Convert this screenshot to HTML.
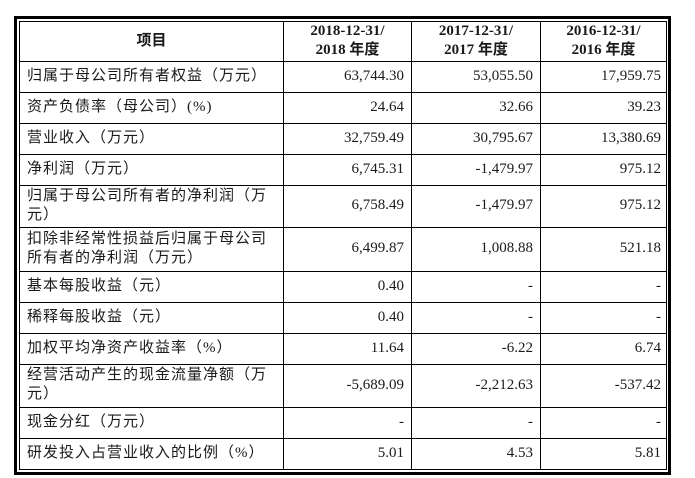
<!DOCTYPE html>
<html><head><meta charset="utf-8"><style>
body{margin:0;width:695px;height:478px;background:#fff;position:relative;overflow:hidden;font-family:"Liberation Serif","Noto Sans CJK SC",serif;color:#1a1a1a}
.h{position:absolute;background:#000}
.t{position:absolute;font-size:15px;line-height:19px;white-space:nowrap}
.l{left:27px;font-family:"Liberation Serif","Noto Sans CJK SC",sans-serif;letter-spacing:1px}
.n{text-align:right}
.hd{font-weight:bold;text-align:center;font-size:15px;line-height:19px}
</style></head><body>
<div class="h" style="left:14px;top:16px;width:657px;height:3px"></div>
<div class="h" style="left:14px;top:472px;width:657px;height:3px"></div>
<div class="h" style="left:14px;top:16px;width:3px;height:459px"></div>
<div class="h" style="left:668px;top:16px;width:3px;height:459px"></div>
<div class="h" style="left:19px;top:21px;width:648px;height:1px"></div>
<div class="h" style="left:19px;top:469px;width:648px;height:1px"></div>
<div class="h" style="left:19px;top:21px;width:1px;height:449px"></div>
<div class="h" style="left:666px;top:21px;width:1px;height:449px"></div>
<div class="h" style="left:283px;top:21px;width:1px;height:449px"></div>
<div class="h" style="left:411px;top:21px;width:1px;height:449px"></div>
<div class="h" style="left:540px;top:21px;width:1px;height:449px"></div>
<div class="h" style="left:19px;top:61px;width:648px;height:1px"></div>
<div class="h" style="left:19px;top:92px;width:648px;height:1px"></div>
<div class="h" style="left:19px;top:123px;width:648px;height:1px"></div>
<div class="h" style="left:19px;top:154px;width:648px;height:1px"></div>
<div class="h" style="left:19px;top:185px;width:648px;height:1px"></div>
<div class="h" style="left:19px;top:227px;width:648px;height:1px"></div>
<div class="h" style="left:19px;top:271px;width:648px;height:1px"></div>
<div class="h" style="left:19px;top:302px;width:648px;height:1px"></div>
<div class="h" style="left:19px;top:333px;width:648px;height:1px"></div>
<div class="h" style="left:19px;top:364px;width:648px;height:1px"></div>
<div class="h" style="left:19px;top:407px;width:648px;height:1px"></div>
<div class="h" style="left:19px;top:438px;width:648px;height:1px"></div>

<div class="t hd" style="left:20px;width:263px;top:32px">项目</div>
<div class="t hd" style="left:284px;width:127px;top:22px">2018-12-31/<br>2018 年度</div>
<div class="t hd" style="left:412px;width:128px;top:22px">2017-12-31/<br>2017 年度</div>
<div class="t hd" style="left:541px;width:125px;top:22px">2016-12-31/<br>2016 年度</div>

<div class="t l" style="top:67px">归属于母公司所有者权益（万元）</div>
<div class="t l" style="top:98px">资产负债率（母公司）(%)</div>
<div class="t l" style="top:129px">营业收入（万元）</div>
<div class="t l" style="top:160px">净利润（万元）</div>
<div class="t l" style="top:187px">归属于母公司所有者的净利润（万<br>元）</div>
<div class="t l" style="top:230px">扣除非经常性损益后归属于母公司<br>所有者的净利润（万元）</div>
<div class="t l" style="top:277px">基本每股收益（元）</div>
<div class="t l" style="top:308px">稀释每股收益（元）</div>
<div class="t l" style="top:339px">加权平均净资产收益率（%）</div>
<div class="t l" style="top:366px">经营活动产生的现金流量净额（万<br>元）</div>
<div class="t l" style="top:413px">现金分红（万元）</div>
<div class="t l" style="top:444px">研发投入占营业收入的比例（%）</div>

<div class="t n" style="right:291px;top:67px">63,744.30</div>
<div class="t n" style="right:162px;top:67px">53,055.50</div>
<div class="t n" style="right:34px;top:67px">17,959.75</div>
<div class="t n" style="right:291px;top:98px">24.64</div>
<div class="t n" style="right:162px;top:98px">32.66</div>
<div class="t n" style="right:34px;top:98px">39.23</div>
<div class="t n" style="right:291px;top:129px">32,759.49</div>
<div class="t n" style="right:162px;top:129px">30,795.67</div>
<div class="t n" style="right:34px;top:129px">13,380.69</div>
<div class="t n" style="right:291px;top:160px">6,745.31</div>
<div class="t n" style="right:162px;top:160px">-1,479.97</div>
<div class="t n" style="right:34px;top:160px">975.12</div>
<div class="t n" style="right:291px;top:196px">6,758.49</div>
<div class="t n" style="right:162px;top:196px">-1,479.97</div>
<div class="t n" style="right:34px;top:196px">975.12</div>
<div class="t n" style="right:291px;top:239px">6,499.87</div>
<div class="t n" style="right:162px;top:239px">1,008.88</div>
<div class="t n" style="right:34px;top:239px">521.18</div>
<div class="t n" style="right:291px;top:277px">0.40</div>
<div class="t n" style="right:162px;top:277px">-</div>
<div class="t n" style="right:34px;top:277px">-</div>
<div class="t n" style="right:291px;top:308px">0.40</div>
<div class="t n" style="right:162px;top:308px">-</div>
<div class="t n" style="right:34px;top:308px">-</div>
<div class="t n" style="right:291px;top:339px">11.64</div>
<div class="t n" style="right:162px;top:339px">-6.22</div>
<div class="t n" style="right:34px;top:339px">6.74</div>
<div class="t n" style="right:291px;top:376px">-5,689.09</div>
<div class="t n" style="right:162px;top:376px">-2,212.63</div>
<div class="t n" style="right:34px;top:376px">-537.42</div>
<div class="t n" style="right:291px;top:413px">-</div>
<div class="t n" style="right:162px;top:413px">-</div>
<div class="t n" style="right:34px;top:413px">-</div>
<div class="t n" style="right:291px;top:444px">5.01</div>
<div class="t n" style="right:162px;top:444px">4.53</div>
<div class="t n" style="right:34px;top:444px">5.81</div>
</body></html>
